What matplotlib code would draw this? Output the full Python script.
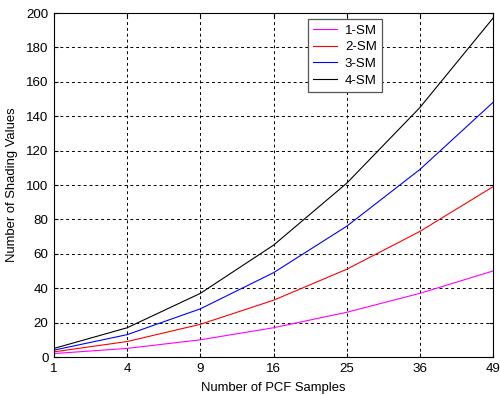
import matplotlib
matplotlib.use("Agg")
import matplotlib.pyplot as plt
import numpy as np

plt.rcParams['font.family'] = ['Liberation Sans', 'DejaVu Sans']

samples = ["1", "4", "9", "16", "25", "36", "49"]
sm1 = [2, 5, 10, 17, 26, 37, 50]
sm2 = [3, 9, 19, 33, 51, 73, 99]
sm3 = [4, 13, 28, 49, 76, 109, 148]
sm4 = [5, 17, 37, 65, 101, 145, 197]
labels = ["1-SM", "2-SM", "3-SM", "4-SM"]
colors = ["#ff00ff", "#ff0000", "#0000ff", "#000000"]

fig = plt.figure(figsize=(5.0, 3.95), dpi=100)
ax = fig.add_axes([54/500, 1-357/395, 439/500, 344/395])
x = np.arange(len(samples))
for ys, lab, c in zip([sm1, sm2, sm3, sm4], labels, colors):
    ax.plot(x, ys, color=c, lw=0.8, label=lab)

ax.set_xlim(0, len(samples)-1)
ax.set_ylim(0, 200)
ax.set_xticks(x)
ax.set_xticklabels(samples)
ax.set_yticks(np.arange(0, 201, 20))
ax.grid(True, color='black', linestyle=(0, (3, 3)), lw=0.7)
ax.tick_params(direction='in', labelsize=9.6, length=3, top=True, right=True,
               colors='black', pad=4)
for s in ax.spines.values():
    s.set_color('black')
    s.set_linewidth(0.8)
ax.set_xlabel("Number of PCF Samples", fontsize=9.4, labelpad=5)
ax.set_ylabel("Number of Shading Values", fontsize=9.4, labelpad=6)
leg = ax.legend(loc='upper left', bbox_to_anchor=((308-54)/439, (357-19)/344),
                fontsize=9.5, fancybox=False, framealpha=1, edgecolor='#555555',
                handlelength=1.8, borderpad=0.4, labelspacing=0.34, handletextpad=0.6,
                borderaxespad=0)
leg.get_frame().set_linewidth(0.9)
fig.savefig("out.png", dpi=100)
